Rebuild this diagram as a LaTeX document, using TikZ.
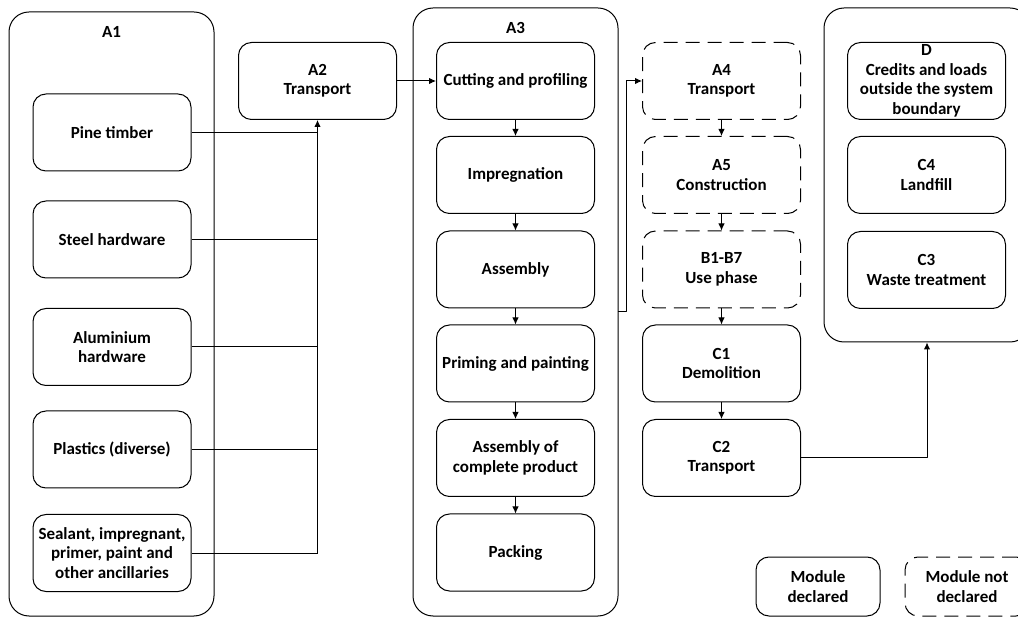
\documentclass[tikz,border=0pt]{standalone}
\usepackage{fontspec}
\setmainfont{Carlito}
\usetikzlibrary{arrows.meta}

\begin{document}
\begin{tikzpicture}[x=1pt, y=-1pt, line join=round, line width=1pt,
    every node/.style={font=\bfseries\fontsize{17}{19.5}\selectfont, align=center},
    module/.style={draw, rounded corners=13pt, minimum width=158pt, minimum height=77pt, inner sep=0pt},
    notdeclared/.style={module, dash pattern=on 14pt off 8pt},
    group/.style={draw, rounded corners=20pt, inner sep=0pt, minimum width=205pt},
    >={Latex[length=7pt,width=6.5pt]}]

    \useasboundingbox (0,0) rectangle (1018,617);

    % A1 raw materials
    \node[group, minimum height=604pt] (a1) at (111.5,314) {};
    \node (a1title) at (111.5,32) {A1};
    \node[module] (pine) at (112,132.5) {Pine timber};
    \node[module] (steel) at (112,239.5) {Steel hardware};
    \node[module] (alu) at (112,347) {Aluminium\\hardware};
    \node[module] (plastics) at (112,449.5) {Plastics (diverse)};
    \node[module] (sealant) at (112,553) {Sealant, impregnant,\\primer, paint and\\other ancillaries};

    \node[module] (a2) at (317.5,81) {A2\\Transport};

    % A3 manufacturing
    \node[group, minimum height=608pt] (a3) at (515.5,312) {};
    \node (a3title) at (515.5,28) {A3};
    \node[module] (cut) at (515.5,81) {Cutting and profiling};
    \node[module] (impreg) at (515.5,175) {Impregnation};
    \node[module] (assembly) at (515.5,269.5) {Assembly};
    \node[module] (priming) at (515.5,363.5) {Priming and painting};
    \node[module] (complete) at (515.5,458) {Assembly of\\complete product};
    \node[module] (packing) at (515.5,552.5) {Packing};

    % A4 - C2
    \node[notdeclared] (a4) at (721.5,81) {A4\\Transport};
    \node[notdeclared] (a5) at (721.5,175) {A5\\Construction};
    \node[notdeclared] (b17) at (721.5,269.5) {B1-B7\\Use phase};
    \node[module] (c1) at (721.5,363.5) {C1\\Demolition};
    \node[module] (c2) at (721.5,458) {C2\\Transport};

    % D, C3, C4
    \node[group, minimum width=206pt, minimum height=334pt] (dgrp) at (927,175) {};
    \node[module] (d) at (926.5,81) {D\\Credits and loads\\outside the system\\boundary};
    \node[module] (c4) at (926.5,175) {C4\\Landfill};
    \node[module] (c3) at (926.5,270) {C3\\Waste treatment};

    % legend
    \node[module, minimum width=124pt, minimum height=59pt] (decl) at (818,586.5) {Module\\declared};
    \node[notdeclared, minimum width=124pt, minimum height=59pt] (notdecl) at (967,586.5) {Module not\\declared};

    % connectors
    \foreach \src in {pine,steel,alu,plastics,sealant}
        \draw (\src.east) -- (\src.east -| a2.south);
    \draw[->] (sealant.east -| a2.south) -- (a2.south);
    \draw[->] (a2) -- (cut);

    \foreach \a/\b in {cut/impreg,impreg/assembly,assembly/priming,priming/complete,complete/packing,a4/a5,a5/b17,b17/c1,c1/c2}
        \draw[->] (\a) -- (\b);

    \coordinate (a3out) at (618,312);
    \draw[->] (a3out) -- ++(8,0) |- (a4.west);
    \draw[->] (c2.east) -| (dgrp.south);

\end{tikzpicture}
\end{document}
